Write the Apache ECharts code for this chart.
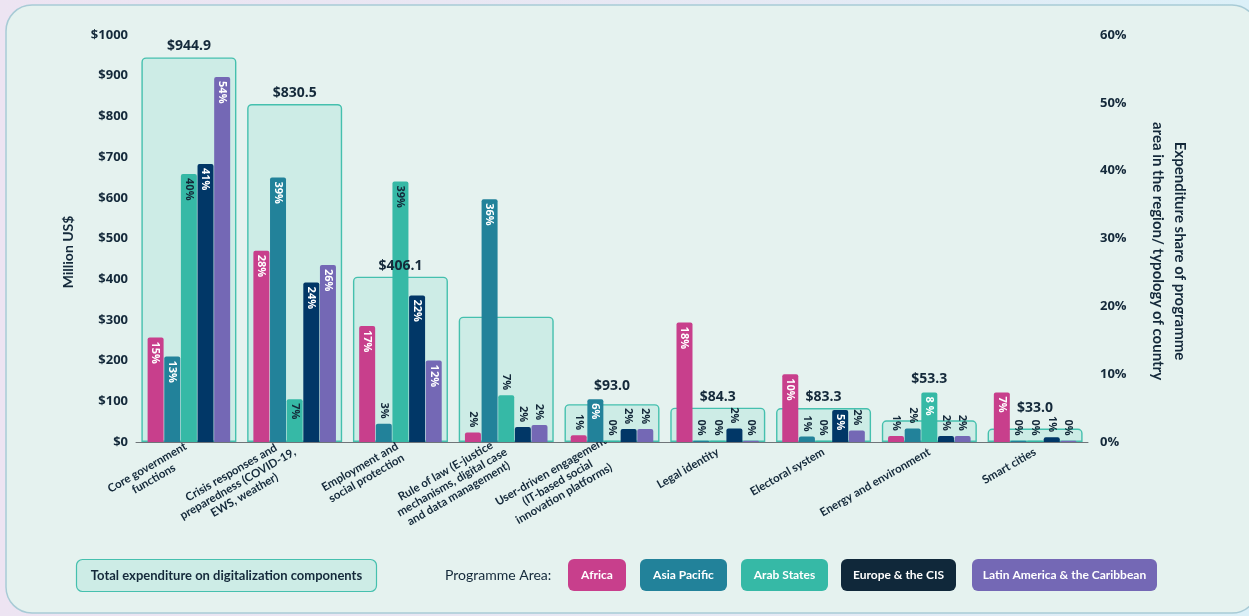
<!DOCTYPE html>
<html>
<head>
<meta charset="utf-8">
<script src="https://cdn.jsdelivr.net/npm/echarts@6/dist/echarts.min.js"></script>
<style>
html,body{margin:0;padding:0;width:1249px;height:616px;overflow:hidden;
background:linear-gradient(90deg,#ede4f2 0%,#e6e9f4 60%,#dbf0f8 100%);}
#c{width:1249px;height:616px;}
</style>
</head>
<body>
<div id="c"></div>
<script>
const categories = [
  'Core government\nfunctions',
  'Crisis responses and\npreparedness (COVID-19,\nEWS, weather)',
  'Employment and\nsocial protection',
  'Rule of law (E-justice\nmechanisms, digital case\nand data management)',
  'User-driven engagement\n(IT-based social\ninnovation platforms)',
  'Legal identity',
  'Electoral system',
  'Energy and environment',
  'Smart cities'
];
const seriesNames = ['Africa', 'Asia Pacific', 'Arab States', 'Europe & the CIS', 'Latin America & the Caribbean'];
// total expenditure (Million US$)
const totals = [944.9, 830.5, 406.1, 308.0, 93.0, 84.3, 83.3, 53.3, 33.0];
const totalLabels = ['$944.9', '$830.5', '$406.1', '', '$93.0', '$84.3', '$83.3', '$53.3', '$33.0'];
// expenditure share (%) - bar heights as drawn
const africa = [15.4, 28.2, 17.1, 1.4, 1.0, 17.6, 10.0, 0.9, 7.3];
const asiaPacific = [12.6, 39.0, 2.7, 35.8, 6.3, 0.2, 0.8, 2.0, 0.2];
const arabStates = [39.5, 6.3, 38.4, 6.9, 0.2, 0.2, 0.2, 7.3, 0.2];
const europeCIS = [41.0, 23.5, 21.6, 2.2, 1.9, 2.0, 4.7, 0.9, 0.7];
const latinAmerica = [53.8, 26.1, 12.0, 2.5, 1.9, 0.2, 1.7, 0.9, 0.2];
// share labels as printed
const africaLbl = ['15%', '28%', '17%', '2%', '1%', '18%', '10%', '1%', '7%'];
const asiaPacificLbl = ['13%', '39%', '3%', '36%', '6%', '0%', '1%', '2%', '0%'];
const arabStatesLbl = ['40%', '7%', '39%', '7%', '0%', '0%', '0%', '8 %', '0%'];
const europeCISLbl = ['41%', '24%', '22%', '2%', '2%', '2%', '5%', '2%', '1%'];
const latinAmericaLbl = ['54%', '26%', '12%', '2%', '2%', '0%', '2%', '2%', '0%'];
const leftTicks = [0, 1000, 100];
const rightTicks = [0, 60, 10];

// style: extra vertical lift of total labels to clear bar labels (px)
const totalLabelLift = [0, 0, 0, 0, -7, 0, 0, -30, -10];

const FONT = '"Open Sans"';
const XFONT = 'Lato';
const DARK = '#14293a';
const colors = ['#c83f8c', '#22829a', '#36b9a6', '#013767', '#7468b5'];
const pillColors = ['#c83f8c', '#22829a', '#36b9a6', '#10283a', '#7468b5'];
const values = [africa, asiaPacific, arabStates, europeCIS, latinAmerica];
const labels = [africaLbl, asiaPacificLbl, arabStatesLbl, europeCISLbl, latinAmericaLbl];

function barData(si) {
  return values[si].map((v, ci) => {
    const inside = v >= 4.5 && !(si === 2 && ci === 3);
    let col = '#ffffff';
    if (si === 2 && !(ci === 7)) col = DARK;
    return {
      value: v,
      label: inside ? {
        position: 'insideTop', align: 'left', verticalAlign: 'middle', distance: 4, color: col
      } : {
        position: 'top', align: 'right', verticalAlign: 'middle', distance: 5, color: DARK
      }
    };
  });
}

const series = [{
  type: 'bar',
  name: 'Total',
  xAxisIndex: 1,
  yAxisIndex: 0,
  data: totals,
  barWidth: 95,
  z: 1,
  itemStyle: { color: '#cdece6', borderColor: '#45c0ae', borderWidth: 1.4, borderRadius: [4, 4, 0, 0] },
  silent: true
}, {
  type: 'scatter',
  name: 'Total label',
  xAxisIndex: 1,
  yAxisIndex: 0,
  data: totals.map((v, i) => ({ value: v, label: { offset: [0, totalLabelLift[i]] } })),
  symbolSize: 0,
  itemStyle: { color: DARK, opacity: 1 },
  z: 10,
  label: {
    show: true, position: 'top', distance: 4,
    formatter: p => totalLabels[p.dataIndex],
    fontFamily: FONT, fontWeight: 'bold', fontSize: 14, color: DARK, opacity: 1
  },
  silent: true
}];
seriesNames.forEach((n, si) => {
  series.push({
    type: 'bar',
    name: n,
    xAxisIndex: 0,
    yAxisIndex: 1,
    data: barData(si),
    barWidth: 16,
    barGap: '4%',
    z: 3,
    itemStyle: { color: colors[si], borderRadius: [2, 2, 0, 0] },
    label: {
      show: true, rotate: -90,
      formatter: p => labels[si][p.dataIndex],
      fontFamily: FONT, fontWeight: 'bold', fontSize: 11
    }
  });
});

const graphic = [
  { type: 'rect', z: -100, silent: true,
    shape: { x: 6, y: 5, width: 1252, height: 608, r: 26 },
    style: { fill: '#e5f2ef', stroke: '#a8cbd6', lineWidth: 1.5 } },
  { type: 'text', x: 68, y: 252, rotation: Math.PI / 2, silent: true,
    style: { text: 'Million US$', fill: DARK, font: 'bold 14px ' + XFONT, textAlign: 'center', textVerticalAlign: 'middle' } },
  { type: 'text', x: 1169, y: 251, rotation: -Math.PI / 2, silent: true,
    style: { text: 'Expenditure share of programme\narea in the region/ typology of country', fill: DARK,
      font: 'bold 15px ' + XFONT, textAlign: 'center', textVerticalAlign: 'middle', lineHeight: 22 } },
  { type: 'rect', silent: true, shape: { x: 76.5, y: 559.5, width: 300, height: 32, r: 6 },
    style: { fill: '#cdece6', stroke: '#45c0ae', lineWidth: 1.2 } },
  { type: 'text', x: 226.5, y: 575.5, silent: true,
    style: { text: 'Total expenditure on digitalization components', fill: DARK, font: 'bold 13px ' + XFONT,
      textAlign: 'center', textVerticalAlign: 'middle' } },
  { type: 'text', x: 445, y: 575.5, silent: true,
    style: { text: 'Programme Area:', fill: DARK, font: '14px ' + XFONT, textAlign: 'left', textVerticalAlign: 'middle' } }
];
const pills = [[568, 58], [640, 87], [741, 87], [841, 115], [972, 185]];
pills.forEach((p, i) => {
  graphic.push({ type: 'rect', silent: true, shape: { x: p[0], y: 559, width: p[1], height: 32, r: 6 },
    style: { fill: pillColors[i] } });
  graphic.push({ type: 'text', x: p[0] + p[1] / 2, y: 575.5, silent: true,
    style: { text: seriesNames[i], fill: '#ffffff', font: 'bold 12px ' + XFONT, textAlign: 'center', textVerticalAlign: 'middle' } });
});

const chart = echarts.init(document.getElementById('c'));
chart.setOption({
  backgroundColor: 'transparent',
  animation: false,
  textStyle: { fontFamily: FONT },
  grid: { left: 136, right: 161, top: 35, bottom: 174 },
  xAxis: [{
    type: 'category', data: categories,
    axisLine: { lineStyle: { color: '#6f7579', width: 1 } },
    axisTick: { show: false },
    axisLabel: {
      rotate: 30, margin: 9, interval: 0,
      formatter: v => v.split('\n').map(s => '{a|' + s + '}').join('\n'),
      rich: { a: { align: 'center', fontFamily: XFONT, fontWeight: 'bold', fontSize: 11.5, color: DARK, lineHeight: 13 } }
    }
  }, {
    type: 'category', data: categories, show: false
  }],
  yAxis: [{
    type: 'value', min: leftTicks[0], max: leftTicks[1], interval: leftTicks[2],
    axisLine: { show: false }, axisTick: { show: false }, splitLine: { show: false },
    axisLabel: { formatter: v => '$' + v, margin: 8, fontFamily: FONT, fontWeight: 'bold', fontSize: 13, color: DARK }
  }, {
    type: 'value', position: 'right', min: rightTicks[0], max: rightTicks[1], interval: rightTicks[2],
    axisLine: { show: false }, axisTick: { show: false }, splitLine: { show: false },
    axisLabel: { formatter: v => v + '%', margin: 12, fontFamily: FONT, fontWeight: 'bold', fontSize: 13, color: DARK }
  }],
  graphic: graphic,
  series: series
});
</script>
</body>
</html>
